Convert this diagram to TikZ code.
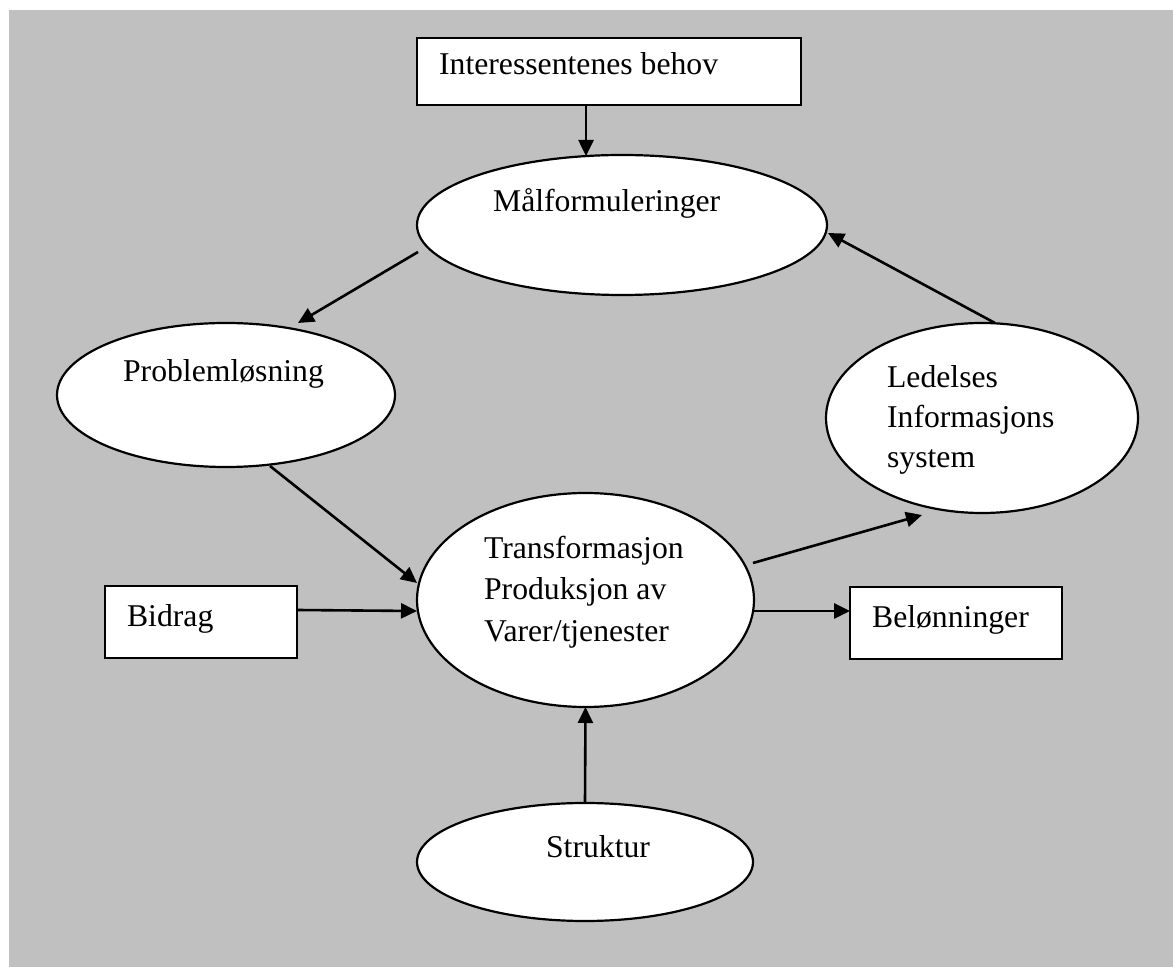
\documentclass[tikz,border=0pt]{standalone}
\usepackage{fontspec}
\setmainfont{Liberation Serif}
\usetikzlibrary{arrows.meta,calc,shapes.geometric}
\definecolor{panel}{RGB}{192,192,192}
\begin{document}
\begin{tikzpicture}[x=0.5pt,y=-0.5pt,
  line width=1.1pt,
  oval/.style={draw,ellipse,fill=white,inner sep=0pt},
  boxnode/.style={draw,rectangle,fill=white,inner sep=0pt},
  txt/.style={inner sep=0pt,anchor=base west,align=left,
    font=\fontsize{15.85pt}{20.4pt}\selectfont},
  arr/.style={-{Triangle[length=8pt,width=7.5pt]},line width=1.3pt}]
\useasboundingbox (0,0) rectangle (1173,967);
\fill[panel] (9,10) rectangle (1173,967);

% shapes
\node[boxnode,minimum width=192pt,minimum height=33.5pt] (int) at (609,71.5) {};
\node[oval,minimum width=205pt,minimum height=70pt] (mal) at (622,225) {};
\node[oval,minimum width=169pt,minimum height=72pt] (prob) at (226,395) {};
\node[oval,minimum width=168.5pt,minimum height=107pt] (tra) at (585.5,600) {};
\node[oval,minimum width=156pt,minimum height=95pt] (lis) at (982,418) {};
\node[oval,minimum width=168pt,minimum height=59pt] (str) at (585,862) {};
\node[boxnode,minimum width=96pt,minimum height=36pt] (bid) at (201,622) {};
\node[boxnode,minimum width=106pt,minimum height=36pt] (bel) at (956,623) {};

% labels
\node[txt] (tint) at (438,75) {Interessentenes behov};
\node[txt] (tmal) at (492,212) {Målformuleringer};
\node[txt] (tprob) at (122,382) {Problemløsning};
\node[txt] (ttra1) at (483,559) {Transformasjon};
\node[txt] (ttra2) at (483,600) {Produksjon av};
\node[txt] (ttra3) at (483,642) {Varer/tjenester};
\node[txt] (tlis1) at (886,388) {Ledelses};
\node[txt] (tlis2) at (886,428) {Informasjons};
\node[txt] (tlis3) at (886,468) {system};
\node[txt] (tbid) at (126,627) {Bidrag};
\node[txt] (tbel) at (871,628) {Belønninger};
\node[txt] (tstr) at (545,857) {Struktur};

% connectors
\draw[arr] ($(int.center)+(-23,33.5)$) -- ($(mal.center)+(-36,-69)$);
\draw[arr] ($(mal.center)+(-204,27)$) -- ($(prob.center)+(72,-72)$);
\draw[arr] ($(prob.center)+(44,71)$) -- ($(tra.center)+(-168.5,-17)$);
\draw[arr] ($(bid.center)+(96,-12)$) -- ($(tra.center)+(-168.5,11)$);
\draw[arr] ($(tra.center)+(168.5,11)$) -- ($(bel.center)+(-106,-12)$);
\draw[arr] ($(tra.center)+(167.5,-37)$) -- ($(lis.center)+(-60,97)$);
\draw[arr] ($(lis.center)+(13,-95)$) -- ($(mal.center)+(206,8)$);
\draw[arr] ($(str.center)+(0,-59)$) -- ($(tra.center)+(0,107)$);
\end{tikzpicture}
\end{document}
